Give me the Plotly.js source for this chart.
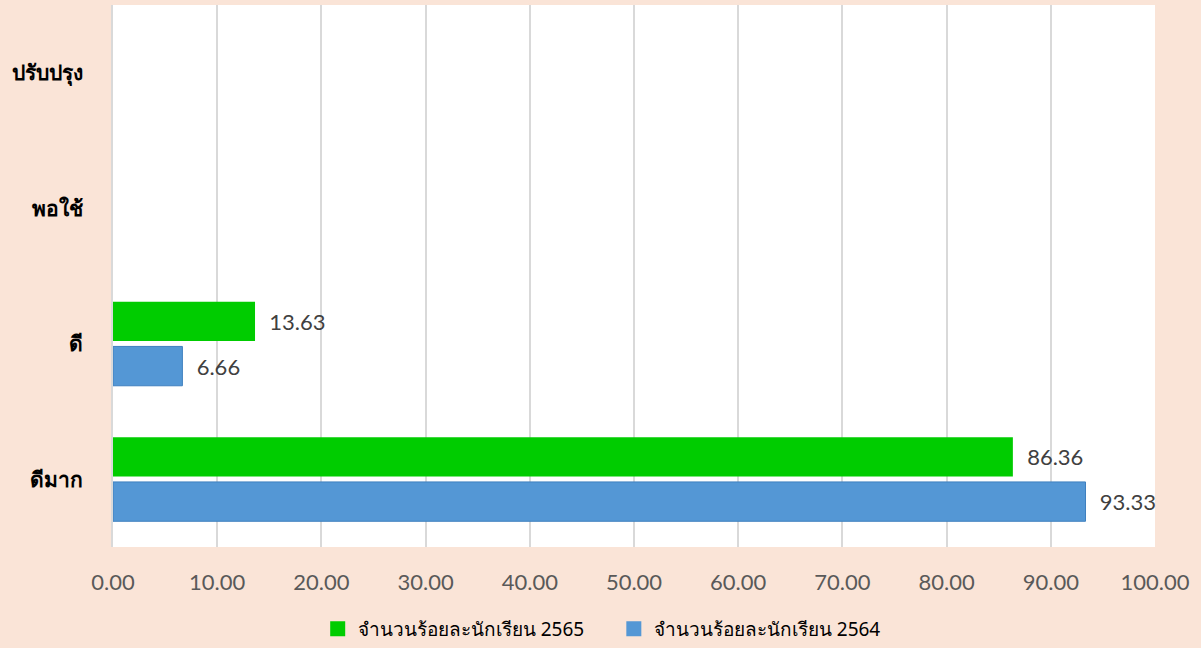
<!DOCTYPE html>
<html>
<head>
<meta charset="utf-8">
<script src="https://cdn.plot.ly/plotly-3.0.1.min.js"></script>
<style>html,body{margin:0;padding:0;background:#FAE4D7;}</style>
</head>
<body>
<div id="chart" style="width:1201px;height:648px;"></div>
<script>
const categories = ['ดีมาก', 'ดี', 'พอใช้', 'ปรับปรุง'];
const values2564 = [93.33, 6.66, null, null];
const values2565 = [86.36, 13.63, null, null];
const name2564 = 'จำนวนร้อยละนักเรียน 2564';
const name2565 = 'จำนวนร้อยละนักเรียน 2565';
const xTicks = [0, 10, 20, 30, 40, 50, 60, 70, 80, 90, 100];
const color2564 = '#5497D5';
const color2565 = '#00CC00';

function labels(arr) { return arr.map(v => v == null ? '' : '\u00A0\u00A0' + v.toFixed(2)); }

const labelFont = {family: 'Lato, "Open Sans", sans-serif', size: 22, color: '#404040'};

const traces = [
  {
    type: 'bar', orientation: 'h', name: name2564, showlegend: false,
    y: categories, x: values2564,
    text: labels(values2564), textposition: 'outside', textfont: labelFont,
    marker: {color: color2564, line: {color: '#3F80BF', width: 1}},
    cliponaxis: false, hoverinfo: 'skip'
  },
  {
    type: 'bar', orientation: 'h', name: name2565, showlegend: false,
    y: categories, x: values2565,
    text: labels(values2565), textposition: 'outside', textfont: labelFont,
    marker: {color: color2565},
    cliponaxis: false, hoverinfo: 'skip'
  },
  {
    type: 'scatter', mode: 'markers', name: name2565 + '\u00A0\u00A0\u00A0\u00A0\u00A0',
    x: [null], y: [null],
    marker: {symbol: 'square', size: 15, color: color2565},
    hoverinfo: 'skip'
  },
  {
    type: 'scatter', mode: 'markers', name: name2564,
    x: [null], y: [null],
    marker: {symbol: 'square', size: 15, color: color2564},
    hoverinfo: 'skip'
  }
];

const layout = {
  width: 1201, height: 648,
  paper_bgcolor: '#FAE4D7', plot_bgcolor: '#FFFFFF',
  margin: {l: 113, r: 46, t: 5, b: 101, autoexpand: false},
  barmode: 'group', bargap: 0.34, bargroupgap: 0.12,
  showlegend: true,
  legend: {
    orientation: 'h',
    x: 0.501, xanchor: 'center', xref: 'container',
    y: 5, yanchor: 'bottom', yref: 'container',
    font: {family: 'Tahoma, "Noto Sans", sans-serif', size: 19, color: '#000000'},
    itemwidth: 30, tracegroupgap: 0
  },
  xaxis: {
    range: [0, 100], tickvals: xTicks, ticktext: xTicks.map(v => v.toFixed(2)),
    showgrid: true, gridcolor: '#D9D9D9', gridwidth: 2,
    zeroline: false, showline: false,
    ticks: 'outside', ticklen: 16, tickcolor: 'rgba(0,0,0,0)',
    tickfont: {family: 'Lato, "Open Sans", sans-serif', size: 22, color: '#595959'},
    fixedrange: true
  },
  yaxis: {
    type: 'category', categoryorder: 'array', categoryarray: categories,
    range: [-0.5, 3.5],
    showgrid: false, zeroline: false,
    showline: true, linecolor: '#D9D9D9', linewidth: 2,
    ticks: 'outside', ticklen: 24, tickcolor: 'rgba(0,0,0,0)',
    tickfont: {family: 'Tahoma, "Noto Sans", sans-serif', size: 21, color: '#000000', weight: 'bold'},
    fixedrange: true
  }
};

Plotly.newPlot('chart', traces, layout, {displayModeBar: false, staticPlot: true});
</script>
</body>
</html>
